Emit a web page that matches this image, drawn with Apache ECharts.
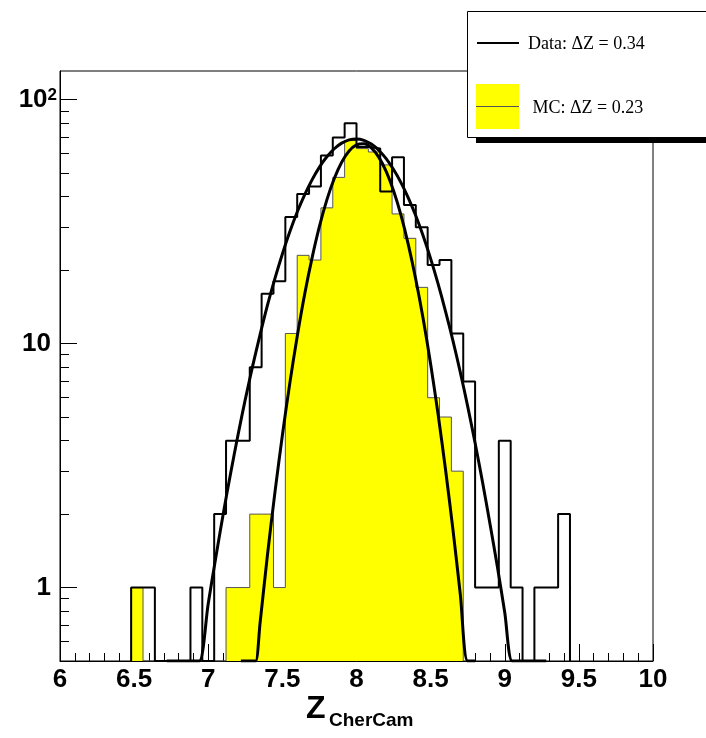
<!DOCTYPE html>
<html><head><meta charset="utf-8">
<script src="https://cdn.jsdelivr.net/npm/echarts@6/dist/echarts.min.js"></script>
<style>html,body{margin:0;padding:0;background:#fff}#c{width:706px;height:738px}</style>
</head><body><div id="c"></div>
<script>
// ---- data ----
const binStart = 6.0;
const binWidth = 0.08;
const dataCounts = [0,0,0,0,0,0,1,1,0,0,0,1,0,2,4,4,8,16,18,33,41,44,59,70,80,64,63,42,58,37,30,21,22,11,7,1,1,4,1,0,1,1,2,0,0,0,0,0,0,0];
const mcCounts   = [0,0,0,0,0,0,1,0,0,0,0,0,0,0,1,1,2,2,1,11,23,22,36,48,68,63,61,54,34,27,17,6,5,3,0,0,0,0,0,0,0,0,0,0,0,0,0,0,0,0];

const dataFitX = [6.72,6.80,6.90,6.94,7.00,7.05,7.10,7.15,7.20,7.25,7.30,7.35,7.40,7.45,7.50,7.55,7.60,7.65,7.70,7.75,7.80,7.85,7.90,7.95,8.00,8.05,8.10,8.15,8.20,8.25,8.30,8.35,8.40,8.45,8.50,8.55,8.60,8.65,8.70,8.75,8.80,8.85,8.90,8.95,9.00,9.05,9.10,9.20,9.28];
const dataFitY = [0.5,0.5,0.5,0.5,0.86,1.32,1.99,2.92,4.20,5.91,8.12,10.9,14.4,18.5,23.3,28.7,34.6,40.7,46.9,52.9,58.3,62.9,66.3,68.4,69.0,68.1,65.7,62.0,57.3,51.7,45.7,39.5,33.4,27.6,22.3,17.6,13.6,10.3,7.64,5.53,3.91,2.71,1.83,1.22,0.79,0.5,0.5,0.5,0.5];
const mcFitX = [7.22,7.30,7.32,7.35,7.40,7.45,7.50,7.55,7.60,7.65,7.70,7.75,7.80,7.85,7.90,7.95,8.00,8.05,8.10,8.15,8.20,8.25,8.30,8.35,8.40,8.45,8.50,8.55,8.60,8.65,8.70,8.75,8.80];
const mcFitY = [0.5,0.5,0.5,0.72,1.37,2.46,4.21,6.87,10.7,15.9,22.4,30.2,38.8,47.5,55.4,61.6,65.2,65.9,63.4,58.1,50.8,42.3,33.6,25.4,18.3,12.6,8.25,5.15,3.06,1.74,0.94,0.5,0.5];

const xTicks = [6,6.5,7,7.5,8,8.5,9,9.5,10];
const yMajorTicks = [1,10,100];
const yMinorTicks = [0.6,0.7,0.8,0.9,2,3,4,5,6,7,8,9,20,30,40,50,60,70,80,90];
const legendLabels = ['Data: \u0394Z = 0.34', 'MC: \u0394Z = 0.23'];
const yMin = 0.5, yMax = 131;

// ---- build series data ----
function outline(counts){
  let first = counts.findIndex(v => v > 0);
  let last = counts.length - 1 - [...counts].reverse().findIndex(v => v > 0);
  const pts = [[binStart + first*binWidth, yMin]];
  for (let i = first; i <= last; i++) pts.push([binStart + i*binWidth, Math.max(counts[i], yMin)]);
  pts.push([binStart + (last+1)*binWidth, yMin]);
  return pts;
}
const mcBars = [];
mcCounts.forEach((v,i) => { if (v > 0) mcBars.push([binStart + i*binWidth, binStart + (i+1)*binWidth, v]); });
const zip = (a,b) => a.map((x,i) => [x, b[i]]);

const chart = echarts.init(document.getElementById('c'), null, {renderer:'canvas'});
const F = '"Liberation Sans", Arial, Helvetica, sans-serif';
const S = '"Liberation Serif", "Times New Roman", serif';

chart.setOption({
  animation: false,
  backgroundColor: '#fff',
  grid: {left: 60, right: 53, top: 71, bottom: 77, show: true, borderColor: '#000', borderWidth: 1, backgroundColor: 'transparent'},
  xAxis: {
    type: 'value', min: 6, max: 10, interval: 0.5,
    axisLine: {show: true, lineStyle: {color: '#000', width: 1}},
    axisTick: {show: true, inside: true, length: 17, lineStyle: {color: '#000'}},
    minorTick: {show: true, splitNumber: 5, length: 8, lineStyle: {color: '#000'}},
    splitLine: {show: false},
    axisLabel: {color: '#000', fontFamily: F, fontWeight: 'bold', fontSize: 26, margin: 6,
      formatter: v => String(Math.round(v*10)/10)}
  },
  yAxis: [{
    type: 'log', logBase: 10, min: yMin, max: yMax, position: 'left',
    axisLine: {show: true, onZero: false, lineStyle: {color: '#000', width: 1}},
    axisTick: {show: true, inside: true, length: 17, customValues: yMajorTicks, lineStyle: {color: '#000'}},
    splitLine: {show: false},
    axisLabel: {color: '#000', fontFamily: F, fontWeight: 'bold', fontSize: 26, margin: 3,
      customValues: yMajorTicks,
      formatter: v => { const r = Math.round(v); return r === 100 ? '{a|10}{b|2}' : '{c|' + r + '}'; },
      rich: {a: {fontFamily: F, fontWeight: 'bold', fontSize: 26, color: '#000'},
             c: {fontFamily: F, fontWeight: 'bold', fontSize: 26, color: '#000', padding: [0, 6, 0, 0]},
             b: {fontFamily: F, fontWeight: 'bold', fontSize: 17, color: '#000', verticalAlign: 'top'}}}
  },{
    type: 'log', logBase: 10, min: yMin, max: yMax, position: 'left', offset: 0,
    axisLine: {show: false},
    axisTick: {show: true, inside: true, length: 9, customValues: yMinorTicks, lineStyle: {color: '#000'}},
    splitLine: {show: false},
    axisLabel: {show: false}
  }],
  series: [
    {type: 'custom', name: 'MC', data: mcBars, encode: {x: [0,1], y: 2}, z: 1,
     renderItem: (params, api) => {
       const p0 = api.coord([api.value(0), api.value(2)]);
       const p1 = api.coord([api.value(1), yMin]);
       const x0 = Math.round(p0[0]), x1 = Math.round(p1[0]);
       return {type: 'rect', shape: {x: x0, y: p0[1], width: x1 - x0, height: p1[1]-p0[1]},
               style: {fill: '#ffff00'}};
     }},
    {type: 'line', name: 'MC outline', data: outline(mcCounts), step: 'end', showSymbol: false, z: 2,
     lineStyle: {color: '#555', width: 1}},
    {type: 'line', name: 'Data', data: outline(dataCounts), step: 'end', showSymbol: false, z: 3,
     lineStyle: {color: '#000', width: 2}},
    {type: 'line', name: 'MC fit', data: zip(mcFitX, mcFitY), smooth: 0.3, showSymbol: false, z: 4,
     lineStyle: {color: '#000', width: 3}},
    {type: 'line', name: 'Data fit', data: zip(dataFitX, dataFitY), smooth: 0.3, showSymbol: false, z: 4,
     lineStyle: {color: '#000', width: 3}}
  ],
  graphic: [
    {type: 'rect', z: 100, shape: {x: 476, y: 18, width: 300, height: 125}, style: {fill: '#000'}},
    {type: 'rect', z: 101, shape: {x: 467.5, y: 11.5, width: 300, height: 126}, style: {fill: '#fff', stroke: '#000', lineWidth: 1}},
    {type: 'line', z: 102, shape: {x1: 477, y1: 43, x2: 519, y2: 43}, style: {stroke: '#000', lineWidth: 2}},
    {type: 'text', z: 102, x: 528, y: 44, style: {text: legendLabels[0], font: '18px ' + S, fill: '#000', verticalAlign: 'middle'}},
    {type: 'rect', z: 102, shape: {x: 476, y: 84, width: 43, height: 45}, style: {fill: '#ffff00'}},
    {type: 'line', z: 103, shape: {x1: 476, y1: 106.5, x2: 519, y2: 106.5}, style: {stroke: '#555', lineWidth: 1}},
    {type: 'text', z: 102, x: 532.5, y: 108, style: {text: legendLabels[1], font: '18px ' + S, fill: '#000', verticalAlign: 'middle'}},
    {type: 'text', z: 102, x: 306, y: 709, style: {text: 'Z', font: 'bold 32px ' + F, fill: '#000', verticalAlign: 'middle'}},
    {type: 'text', z: 102, x: 329, y: 721, style: {text: 'CherCam', font: 'bold 19px ' + F, fill: '#000', verticalAlign: 'middle'}}
  ]
});
</script></body></html>
